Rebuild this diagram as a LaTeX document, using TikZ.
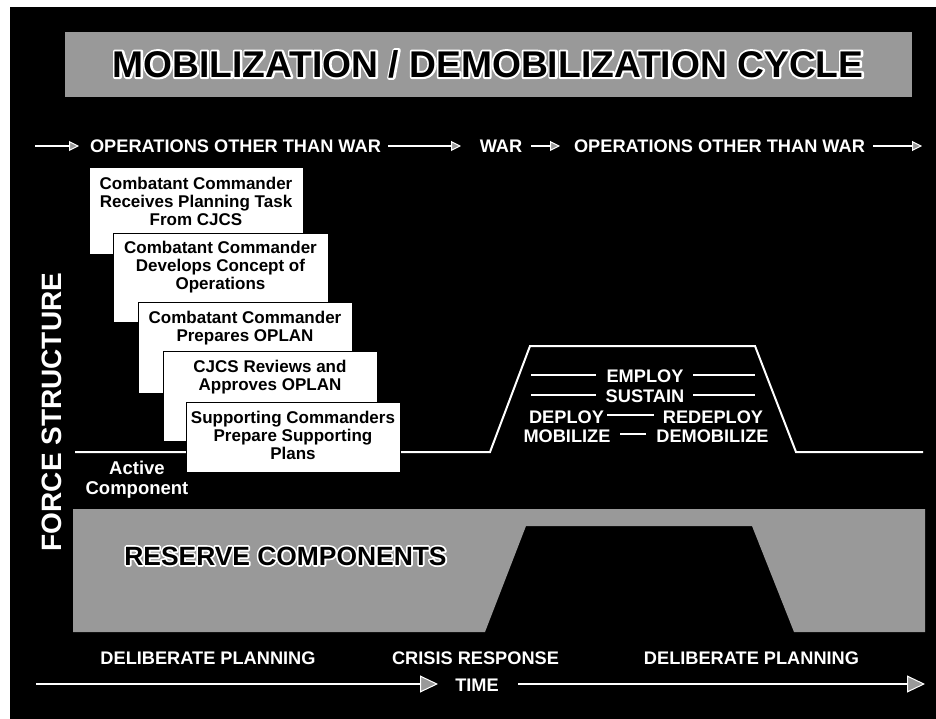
\documentclass[tikz,border=0pt]{standalone}
\usepackage{fontspec}
\setmainfont{Liberation Sans}
\usetikzlibrary{arrows.meta}
\definecolor{speck}{gray}{0.6}
\newcommand{\fs}[1]{\fontsize{#1}{#1}\selectfont}
\newcommand{\outlined}[2]{\rlap{\special{pdf:literal direct 1 Tr #1 w 1 j 1 G}#2\special{pdf:literal direct 0 Tr 0 j 0 G 0.4 w}}#2}
\tikzset{
  lbl/.style={text=white, font=\bfseries\fs{18.2}, inner sep=0pt},
  card/.style={draw=black, line width=0.8pt, fill=white, anchor=north west, inner sep=0pt},
  cardtxt/.style={text=black, font=\bfseries\fontsize{17}{18}\selectfont, align=center, inner sep=0pt, anchor=north},
  outl/.style={text=black, inner sep=0pt},
  wline/.style={draw=white, line width=2pt, line join=miter},
  hline/.style={draw=white, line width=1.2pt},
  warrow/.style={draw=white, line width=2pt, -{Triangle[length=10pt,width=10pt,fill=speck,line width=1pt]}},
  tarrow/.style={draw=white, line width=2.2pt, -{Triangle[length=18pt,width=17pt,fill=speck,line width=1pt]}}
}
\begin{document}
\begin{tikzpicture}[x=1pt,y=-1pt]
\useasboundingbox (0,0) rectangle (936,719);
\fill[white] (0,0) rectangle (936,719);
\fill[black] (10,7) rectangle (936,719);
% title
\fill[speck] (65,32) rectangle (912,97);
\node[outl, font=\bfseries\fs{37.2}] (title) at (488,64) {\outlined{4}{MOBILIZATION / DEMOBILIZATION CYCLE}};
% top arrow row
\coordinate (a1s) at (35,146); \coordinate (a1e) at (79,146);
\coordinate (a2s) at (388,146); \coordinate (a2e) at (461,146);
\coordinate (a3s) at (531,146); \coordinate (a3e) at (560,146);
\coordinate (a4s) at (873,146); \coordinate (a4e) at (922,146);
\node[lbl] (ootw1) at (235.5,146) {OPERATIONS OTHER THAN WAR};
\node[lbl] (war) at (501,146) {WAR};
\node[lbl] (ootw2) at (719.5,146) {OPERATIONS OTHER THAN WAR};
\draw[warrow] (a1s) -- (a1e);
\draw[warrow] (a2s) -- (a2e);
\draw[warrow] (a3s) -- (a3e);
\draw[warrow] (a4s) -- (a4e);
% active component line with trapezoid
\coordinate (l0) at (75,452); \coordinate (l1) at (490,452);
\coordinate (l2) at (530,346); \coordinate (l3) at (755,346);
\coordinate (l4) at (796,452); \coordinate (l5) at (923,452);
\draw[wline] (l0) -- (l1) -- (l2) -- (l3) -- (l4) -- (l5);
% cards
\node[card, minimum width=214pt, minimum height=87pt] (c1) at (89,167) {};
\node[cardtxt] (c1t) at (196,177) {Combatant Commander\\Receives Planning Task\\From CJCS};
\node[card, minimum width=215pt, minimum height=89pt] (c2) at (113,233) {};
\node[cardtxt] (c2t) at (220.5,241) {Combatant Commander\\Develops Concept of\\Operations};
\node[card, minimum width=214pt, minimum height=91pt] (c3) at (138,302) {};
\node[cardtxt] (c3t) at (245,311) {Combatant Commander\\Prepares OPLAN};
\node[card, minimum width=214pt, minimum height=90pt] (c4) at (163,351) {};
\node[cardtxt] (c4t) at (270,360) {CJCS Reviews and\\Approves OPLAN};
\node[card, minimum width=214pt, minimum height=70pt] (c5) at (186,402) {};
\node[cardtxt] (c5t) at (293,411) {Supporting Commanders\\Prepare Supporting\\Plans};
% trapezoid labels
\node[lbl] (employ) at (645,376) {EMPLOY};
\node[lbl] (sustain) at (645,396) {SUSTAIN};
\node[lbl] (deploy) at (566.5,417) {DEPLOY};
\node[lbl] (redeploy) at (713,417) {REDEPLOY};
\node[lbl] (mobilize) at (567,436) {MOBILIZE};
\node[lbl] (demobilize) at (712.5,436) {DEMOBILIZE};
\draw[hline] (531,375) -- (596,375);
\draw[hline] (693,375) -- (755,375);
\draw[hline] (531,395) -- (596,395);
\draw[hline] (693,395) -- (755,395);
\draw[hline] (607,415) -- (654,415);
\draw[hline] (620,434) -- (646,434);
% active component label
\node[text=white, font=\bfseries\fontsize{18.5}{20}\selectfont, align=center, inner sep=0pt] (active) at (137,480) {Active\\Component};
% force structure
\node[text=white, font=\bfseries\fs{28}, rotate=90, inner sep=0pt] (force) at (52,412) {FORCE STRUCTURE};
% reserve components
\fill[speck] (73,509) -- (925,509) -- (925,632) -- (794,632) -- (752,526) -- (526,526) -- (485,632) -- (73,632) -- cycle;
\node[outl, font=\bfseries\fs{26.4}] (reserve) at (285.5,556) {\outlined{3.4}{RESERVE COMPONENTS}};
% bottom labels
\node[lbl] (dp1) at (208,658) {DELIBERATE PLANNING};
\node[lbl] (crisis) at (475.5,658) {CRISIS RESPONSE};
\node[lbl] (dp2) at (751.5,658) {DELIBERATE PLANNING};
% time axis
\coordinate (t1s) at (36,684); \coordinate (t1e) at (438,684);
\coordinate (t2s) at (518,684); \coordinate (t2e) at (925,684);
\node[lbl] (time) at (477,685) {TIME};
\draw[tarrow] (t1s) -- (t1e);
\draw[tarrow] (t2s) -- (t2e);
\end{tikzpicture}
\end{document}
